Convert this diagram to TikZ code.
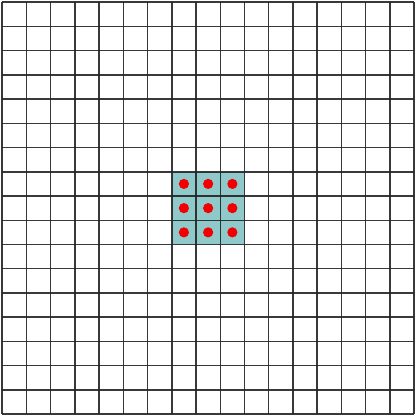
\documentclass[tikz,border=0pt]{standalone}
\definecolor{cellfill}{RGB}{143,201,201}
\definecolor{gridline}{RGB}{35,35,35}
\definecolor{dotred}{RGB}{240,0,0}
\tikzset{
  gridstyle/.style={draw=gridline, line width=0.85pt, draw opacity=0.9},
  dotstyle/.style={fill=dotred, draw=none}
}
\begin{document}
\begin{tikzpicture}[x=0.5cm,y=0.5cm]
\useasboundingbox (-0.09,-0.12) rectangle (17.09,17.09);
\fill[cellfill] (7,7) rectangle (10,10);
\foreach \k in {0,...,17} {
  \draw[gridstyle] (\k,0) -- (\k,17);
  \draw[gridstyle] (0,\k) -- (17,\k);
}
\foreach \i in {7.5,8.5,9.5}
  \foreach \j in {7.5,8.5,9.5}
    \fill[dotstyle] (\i,\j) circle (0.21);
\end{tikzpicture}
\end{document}
